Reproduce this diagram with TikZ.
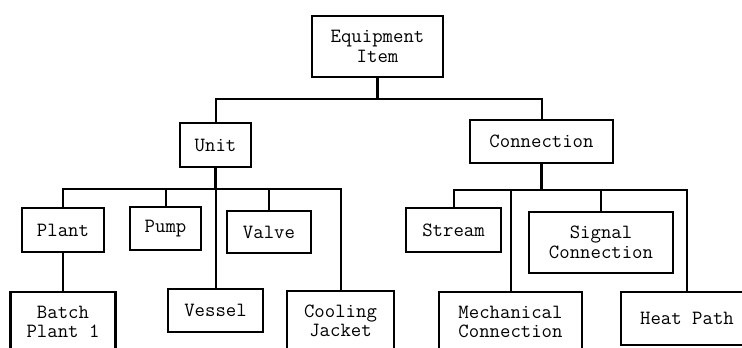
\documentclass[tikz,border=0pt]{standalone}
\usepackage{fontspec}
\begin{document}
\begin{tikzpicture}[x=1pt,y=-1pt,
  box/.style={draw=black, line width=2.2pt, fill=white, inner sep=0pt, align=center,
    font=\ttfamily\fontsize{20.2}{19.5}\selectfont, text=black},
  link/.style={draw=black, line width=2pt},
  stub/.style={draw=black, line width=3pt}]
\useasboundingbox (0,0) rectangle (742,348);
\clip (0,0) rectangle (742,348);
\fill[white] (0,0) rectangle (742,348);
% bus coordinates
\coordinate (eb) at (377.5,99);
\coordinate (ub) at (215.5,189);
\coordinate (cb) at (541.5,190);
% nodes
\node[box, minimum width=131, minimum height=61] (equip) at (377.5,46.5) {Equipment\\Item};
\node[box, minimum width=71, minimum height=44] (unit) at (215.5,145) {Unit};
\node[box, minimum width=143, minimum height=43] (conn) at (541.5,141.5) {Connection};
\node[box, minimum width=82, minimum height=44] (plant) at (63,230) {Plant};
\node[box, minimum width=71, minimum height=43] (pump) at (165.5,228.5) {Pump};
\node[box, minimum width=84, minimum height=42] (valve) at (269,232) {Valve};
\node[box, minimum width=95, minimum height=43] (vessel) at (215.5,310.5) {Vessel};
\node[box, minimum width=105, minimum height=60] (batch) at (63,322) {Batch\\Plant 1};
\node[box, minimum width=107, minimum height=60] (cooling) at (340.5,321) {Cooling\\Jacket};
\node[box, minimum width=95, minimum height=44] (stream) at (453.5,230) {Stream};
\node[box, minimum width=144, minimum height=61] (signal) at (601,242.5) {Signal\\Connection};
\node[box, minimum width=143, minimum height=60] (mech) at (510.5,322) {Mechanical\\Connection};
\node[box, minimum width=132, minimum height=53] (heat) at (687,318.5) {Heat Path};
% connectors between named nodes
\draw[link] (unit.north) |- (eb) -| (conn.north);
\draw[stub] (equip.south) -- (eb);
\draw[stub] (unit.south) -- (ub);
\draw[stub] (conn.south) -- (cb);
\draw[link] (plant.north) |- (ub);
\draw[link] (pump.north) |- (ub);
\draw[link] (valve.north) |- (ub);
\draw[link] (vessel.north) -- (ub);
\draw[link] (cooling.north) |- (ub);
\draw[link] (plant.south) -- (batch.north);
\draw[link] (stream.north) |- (cb);
\draw[link] (mech.north) |- (cb);
\draw[link] (signal.north) |- (cb);
\draw[link] (heat.north) |- (cb);
\end{tikzpicture}
\end{document}
